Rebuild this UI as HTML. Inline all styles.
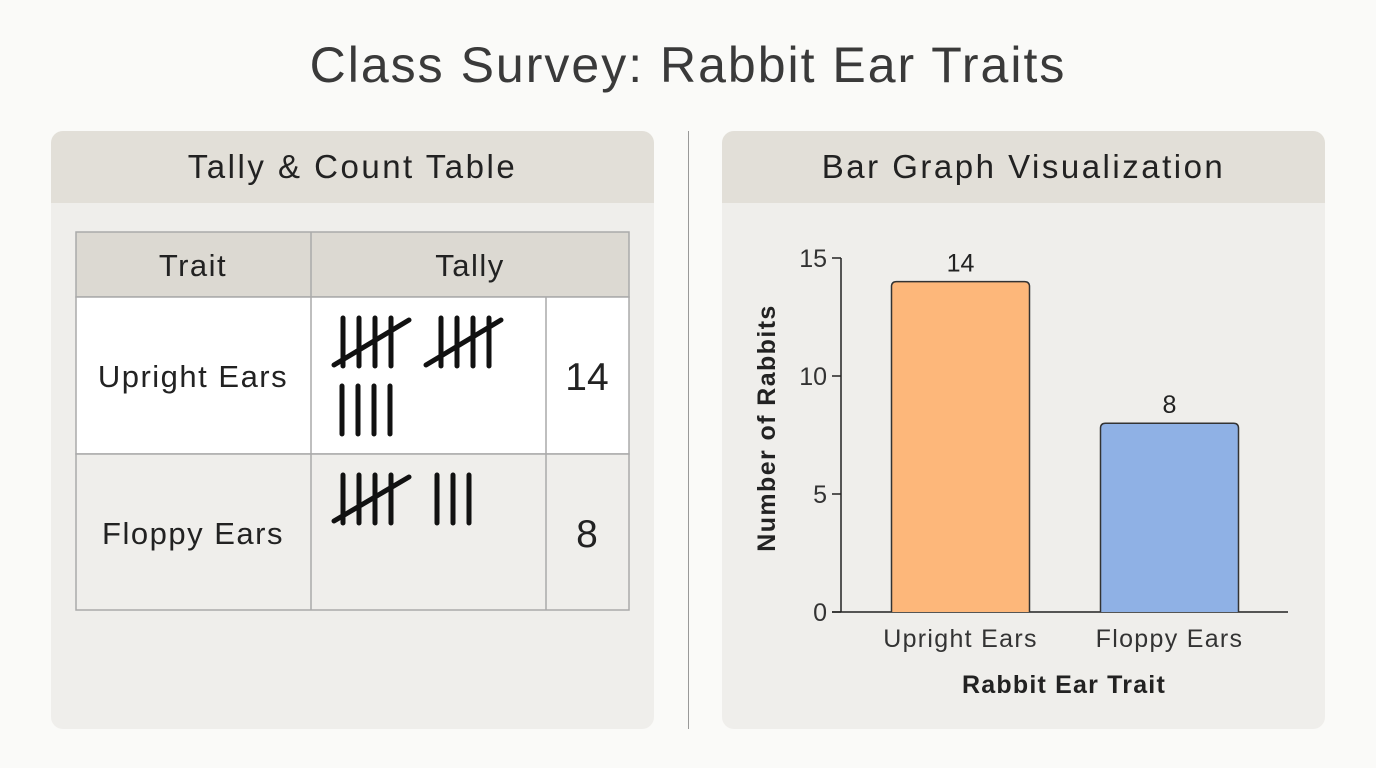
<!DOCTYPE html>
<html><head><meta charset="utf-8"><style>
body{margin:0;width:1376px;height:768px;background:#fafaf8;font-family:"Liberation Sans",sans-serif;position:relative;overflow:hidden;color:#222}
.abs{position:absolute}
.panel{position:absolute;top:131px;width:603px;height:598px;background:#efeeeb;border-radius:12px;overflow:hidden}
.ph{height:72px;background:#e2dfd8;text-align:center;line-height:72px;font-size:33px;letter-spacing:2.5px;color:#222}
</style></head><body>
<div class="abs" style="left:0;width:1376px;top:35px;text-align:center;font-size:50px;letter-spacing:2px;color:#3a3a3a;line-height:60px">Class Survey: Rabbit Ear Traits</div>
<div class="abs" style="left:688px;top:131px;width:1px;height:598px;background:#999"></div>
<div class="panel" style="left:51px">
<div class="ph">Tally &amp; Count Table</div>
</div>
<div class="panel" style="left:722px">
<div class="ph">Bar Graph Visualization</div>
</div>
<svg class="abs" style="left:0;top:0" width="1376" height="768">
<g stroke="#aaa" stroke-width="1.5">
<rect x="76" y="232" width="553" height="65" fill="#dcd9d2"/>
<rect x="76" y="297" width="553" height="157" fill="#fff"/>
<rect x="76" y="454" width="553" height="156" fill="#efeeeb"/>
<line x1="311" y1="232" x2="311" y2="610"/>
<line x1="546" y1="297" x2="546" y2="610"/>
</g>
<g font-size="31" letter-spacing="1.5" text-anchor="middle" fill="#222">
<text x="193" y="276">Trait</text>
<text x="470" y="276">Tally</text>
<text x="193" y="387">Upright Ears</text>
<text x="193" y="544">Floppy Ears</text>
<text x="587" y="390" font-size="39" letter-spacing="0">14</text>
<text x="587" y="547" font-size="39" letter-spacing="0">8</text>
</g>
<g stroke="#111" stroke-width="5" stroke-linecap="round">
<path d="M343 318V366M359 318V366M375 318V366M391 318V366M334 365L409 320"/>
<path d="M441 318V366M457 318V366M473 318V366M489 318V366M426 365L501 320"/>
<path d="M342 386V434M358 386V434M374 386V434M390 386V434"/>
<path d="M343 475V523M359 475V523M375 475V523M391 475V523M334 521L409 477"/>
<path d="M437 475V523M453 475V523M469 475V523"/>
</g>
</svg>
<svg id="chart" class="abs" style="left:0;top:0" width="1376" height="768"></svg>
<script>
const categories=["Upright Ears","Floppy Ears"];
const counts=[14,8];
const yTicks=[0,5,10,15];
const colors=["#fdb77a","#8fb1e5"];
const svg=document.getElementById('chart');
const NS="http://www.w3.org/2000/svg";
const x0=841,yBase=612,yTop=258,yMax=15;
const y=v=>yBase-(yBase-yTop)*v/yMax;
const bandStart=856,band=209,barW=138;
const bx=i=>bandStart+band*i+(band-barW)/2;
function mk(t,a){const e=document.createElementNS(NS,t);for(const k in a)e.setAttribute(k,a[k]);svg.appendChild(e);return e;}
let ax=mk('line',{x1:x0,y1:yTop,x2:x0,y2:yBase,stroke:'#222','stroke-width':1.5});


let xa=mk('line',{x1:x0-9,y1:yBase,x2:1288,y2:yBase,stroke:'#222','stroke-width':1.5});


yTicks.forEach(v=>{
 let t=mk('line',{x1:x0-9,y1:y(v),x2:x0,y2:y(v),stroke:'#222','stroke-width':1.5});
 
 
 let l=mk('text',{x:x0-14,y:y(v)+9,'text-anchor':'end','font-size':25,fill:'#333'});
 l.textContent=v;
 
 
});
counts.forEach((c,i)=>{
 const X=bx(i),Y=y(c);
 let b=mk('path',{d:`M${X} ${yBase}V${Y+5}Q${X} ${Y} ${X+5} ${Y}H${X+barW-5}Q${X+barW} ${Y} ${X+barW} ${Y+5}V${yBase}`,fill:colors[i],stroke:'#333','stroke-width':1.5});
 
 
 let v=mk('text',{x:X+barW/2,y:Y-10,'text-anchor':'middle','font-size':25,fill:'#222'});
 v.textContent=c;
 
 
 let l=mk('text',{x:X+barW/2,y:647,'text-anchor':'middle','font-size':25,'letter-spacing':1.3,fill:'#333'});
 l.textContent=categories[i];
 
 
});
let xt=mk('text',{x:1064,y:693,'text-anchor':'middle','font-size':25,'letter-spacing':1.2,'font-weight':'bold',fill:'#222'});
xt.textContent='Rabbit Ear Trait';


let yt=mk('text',{x:0,y:0,'text-anchor':'middle','font-size':25,'letter-spacing':1.4,'font-weight':'bold',fill:'#222',transform:'translate(775,428) rotate(-90)'});
yt.textContent='Number of Rabbits';


</script>
</body></html>
